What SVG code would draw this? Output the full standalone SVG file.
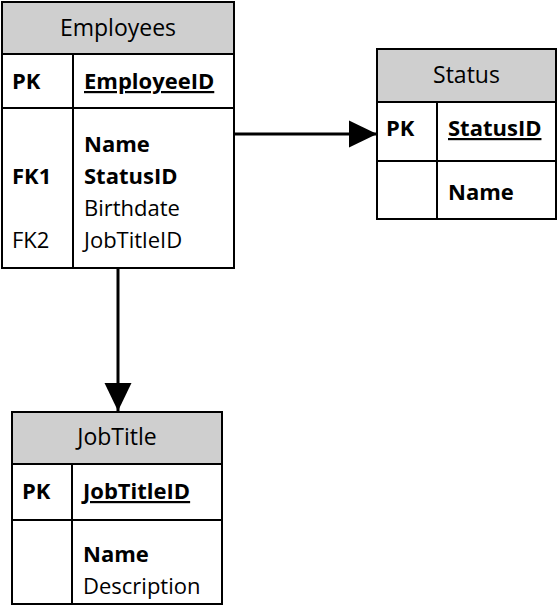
<svg xmlns="http://www.w3.org/2000/svg" width="559" height="616" viewBox="0 0 559 616">
<style>
.box{fill:#fff;stroke:#000;stroke-width:2}
.hdr{fill:#cfcfcf;stroke:#000;stroke-width:2}
.ln{stroke:#000;stroke-width:2;fill:none}
text{font-family:"Open Sans","Noto Sans","Liberation Sans",sans-serif;font-size:22px;fill:#000}
.t{text-anchor:middle;font-size:23px}
.b{font-weight:bold}
.u{text-decoration:underline}
.conn{stroke:#000;stroke-width:3;fill:none}
</style>
<defs>
<marker id="ah" markerUnits="userSpaceOnUse" markerWidth="28" markerHeight="28" viewBox="0 0 27 26" refX="27" refY="13" orient="auto">
<path d="M0,0 L27,13 L0,26 Z" fill="#000"/>
</marker>
</defs>
<rect width="559" height="616" fill="#fff"/>
<g id="connectors">
<line class="conn" x1="234" y1="134" x2="377" y2="134" marker-end="url(#ah)"/>
<line class="conn" x1="118" y1="268" x2="118" y2="411" marker-end="url(#ah)"/>
</g>
<g id="employees">
<rect class="box" x="2" y="2" width="232" height="266"/>
<rect class="hdr" x="2" y="2" width="232" height="52"/>
<line class="ln" x1="2" y1="108" x2="234" y2="108"/>
<line class="ln" x1="73" y1="54" x2="73" y2="268"/>
<text class="t" x="118" y="36">Employees</text>
<text class="b" x="12" y="89">PK</text>
<text class="b u" x="84" y="89">EmployeeID</text>
<text class="b" x="84" y="152">Name</text>
<text class="b" x="12" y="184">FK1</text>
<text class="b" x="84" y="184">StatusID</text>
<text x="84" y="216">Birthdate</text>
<text x="12" y="248">FK2</text>
<text x="84" y="248">JobTitleID</text>
</g>
<g id="status">
<rect class="box" x="377" y="49" width="179" height="170"/>
<rect class="hdr" x="377" y="49" width="179" height="53"/>
<line class="ln" x1="377" y1="161" x2="556" y2="161"/>
<line class="ln" x1="437" y1="102" x2="437" y2="219"/>
<text class="t" x="466.5" y="83">Status</text>
<text class="b" x="386" y="136">PK</text>
<text class="b u" x="448" y="136">StatusID</text>
<text class="b" x="448" y="200">Name</text>
</g>
<g id="jobtitle">
<rect class="box" x="12" y="412" width="210" height="192"/>
<rect class="hdr" x="12" y="412" width="210" height="52"/>
<line class="ln" x1="12" y1="520" x2="222" y2="520"/>
<line class="ln" x1="72" y1="464" x2="72" y2="604"/>
<text class="t" x="117" y="445">JobTitle</text>
<text class="b" x="22" y="499">PK</text>
<text class="b u" x="83" y="499">JobTitleID</text>
<text class="b" x="83" y="562">Name</text>
<text x="83" y="594">Description</text>
</g>
</svg>
